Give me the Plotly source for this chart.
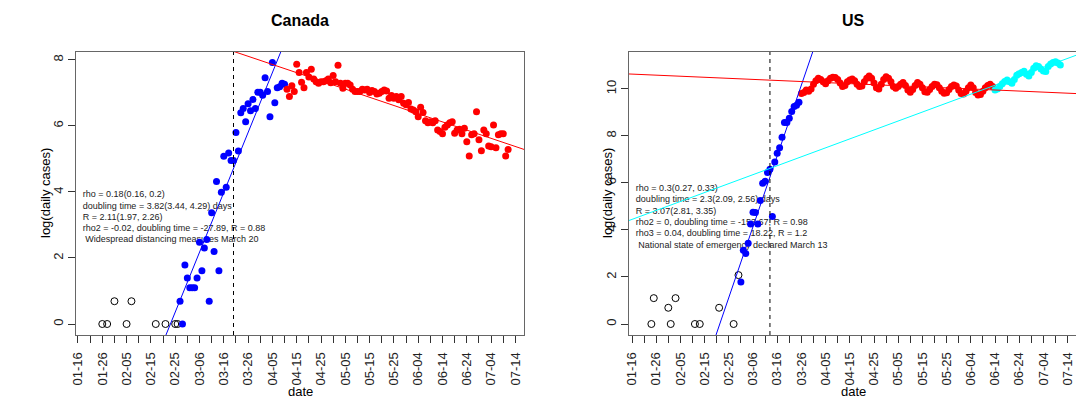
import plotly.graph_objects as go
from datetime import datetime, timedelta
import math

# ---------------------------------------------------------------------------
# Data: days are counted from 2020-01-16, values are log(daily cases)
# ---------------------------------------------------------------------------
START = datetime(2020, 1, 16)

# Canada
ca_early_days = [10, 12, 15, 20, 22, 32, 36, 40, 41]
ca_early_log = [0, 0, 0.69, 0, 0.69, 0, 0, 0, 0]

ca_growth_start = 42
ca_growth_log = [0.69, 0, 1.79, 1.39, 1.10, 1.10, 1.10, 1.39, 2.48, 1.61,
                 2.30, 2.56, 0.69, 3.37, 2.20, 4.32, 1.61, 3.99, 5.08, 4.14,
                 5.18, 4.95, 4.95, 5.80, 5.24, 6.40, 6.53, 6.13, 6.67, 6.46,
                 6.80, 6.53, 7.02, 7.02, 6.93, 7.46, 7.04, 6.28, 7.92, 6.70,
                 7.16, 7.19, 7.29, 7.26]

ca_decline_start = 86
ca_decline_log = [7.11, 6.89, 7.22, 7.04, 7.87, 7.62, 7.32, 7.16, 7.62, 7.48,
                  7.72, 7.42, 7.34, 7.29, 7.34, 7.34, 7.37, 7.42, 7.31, 7.53,
                  7.34, 7.84, 7.29, 7.14, 7.29, 7.29, 7.24, 7.11, 7.04, 7.04,
                  7.04, 7.11, 7.09, 7.11, 7.01, 7.07, 7.04, 6.97, 6.99, 7.04,
                  7.09, 7.06, 6.84, 6.92, 6.84, 6.89, 6.79, 6.89, 6.69, 6.64,
                  6.71, 6.51, 6.48, 6.43, 6.28, 6.57, 6.41, 6.16, 6.10, 6.13,
                  6.10, 6.16, 5.88, 5.83, 5.76, 5.96, 6.03, 6.10, 6.13, 5.78,
                  5.88, 5.90, 5.76, 5.93, 5.52, 5.09, 5.73, 5.76, 6.43, 5.58,
                  5.25, 5.88, 5.76, 5.39, 5.37, 6.03, 5.34, 5.73, 5.76, 5.76,
                  5.09, 5.29]

ca_doubling = [3.82, -27.89]          # growth / decline phase doubling times
ca_fit_intercept = [-6.90, 9.85]      # fitted log value at day 0
ca_event_day = 64                     # 2020-03-20
ca_text = ["rho = 0.18(0.16, 0.2)",
           "doubling time = 3.82(3.44, 4.29) days",
           "R = 2.11(1.97, 2.26)",
           "rho2 = -0.02, doubling time = -27.89, R = 0.88",
           "\u00a0Widespread distancing measures March 20"]

# US
us_early_days = [8, 9, 15, 16, 18, 26, 28, 36, 42, 44]
us_early_log = [0, 1.10, 0.69, 0, 1.10, 0, 0, 0.69, 0, 2.08]

us_growth_start = 45
us_growth_log = [1.79, 3.14, 3.00, 3.43, 4.25, 4.75, 4.74, 4.25, 5.25, 5.99,
                 6.07, 6.44, 6.58, 4.57, 6.89, 7.26, 7.50, 7.94, 8.57, 8.57,
                 8.75, 9.04, 9.25, 9.30, 9.43]

us_plateau_start = 70
us_plateau_log = [9.80, 9.85, 9.95, 9.90, 10.00, 10.20, 10.35, 10.45, 10.40, 10.30,
                  10.22, 10.35, 10.45, 10.50, 10.48, 10.40, 10.25, 10.10, 10.15, 10.30,
                  10.38, 10.42, 10.35, 10.20, 10.10, 10.12, 10.30, 10.45, 10.55, 10.45,
                  10.25, 10.05, 10.00, 10.20, 10.40, 10.52, 10.45, 10.30, 10.10, 10.03,
                  10.10, 10.20, 10.27, 10.15, 9.95, 9.86, 9.98, 10.15, 10.27, 10.20,
                  10.05, 9.88, 9.86, 9.98, 10.10, 10.20, 10.18, 10.05, 9.90, 9.82,
                  9.84, 9.98, 10.10, 10.17, 10.12, 9.95, 9.80, 9.78, 9.90, 10.05,
                  10.17, 10.05, 9.85, 9.74, 9.76, 9.90, 10.05, 10.15, 10.20, 10.10]

us_resurge_start = 150
us_resurge_log = [9.95, 10.00, 10.10, 10.22, 10.31, 10.38, 10.30, 10.24, 10.40, 10.58,
                  10.65, 10.70, 10.75, 10.62, 10.55, 10.70, 10.88, 10.98, 10.95, 10.85,
                  10.76, 10.74, 10.95, 11.06, 11.12, 11.16, 11.10, 11.02]

us_doubling = [2.3, -153.67, 18.22]
us_fit_intercept = [-10.93, 10.63, 4.45]
us_event_day = 57                     # 2020-03-13
us_text = ["rho = 0.3(0.27, 0.33)",
           "doubling time = 2.3(2.09, 2.56) days",
           "R = 3.07(2.81, 3.35)",
           "rho2 = 0, doubling time = -153.67, R = 0.98",
           "rho3 = 0.04, doubling time = 18.22, R = 1.2",
           "\u00a0National state of emergency declared March 13"]

# ---------------------------------------------------------------------------
W, H = 1076, 398
FONT = "Liberation Sans, Arial, sans-serif"
BLUE, RED, CYAN = "#0000FF", "#FF0000", "#00FFFF"


def to_date(d):
    return (START + timedelta(days=d)).strftime("%Y-%m-%d %H:%M:%S")


def dates(first, n):
    return [to_date(first + i) for i in range(n)]


def fit_line(doubling, intercept, lo=-10, hi=200):
    rate = math.log(2) / doubling
    return [to_date(lo), to_date(hi)], [intercept + rate * lo, intercept + rate * hi]


fig = go.Figure()

panels = [
    dict(xa="x", ya="y", early=(ca_early_days, ca_early_log),
         phases=[(ca_growth_start, ca_growth_log, BLUE), (ca_decline_start, ca_decline_log, RED)],
         fits=list(zip(ca_doubling, ca_fit_intercept, [BLUE, RED])),
         text=ca_text, text_day=2.0, text_top=3.91, text_step=0.343, event=ca_event_day),
    dict(xa="x2", ya="y2", early=(us_early_days, us_early_log),
         phases=[(us_growth_start, us_growth_log, BLUE), (us_plateau_start, us_plateau_log, RED),
                 (us_resurge_start, us_resurge_log, CYAN)],
         fits=list(zip(us_doubling, us_fit_intercept, [BLUE, RED, CYAN])),
         text=us_text, text_day=1.6, text_top=5.77, text_step=0.488, event=us_event_day),
]

for p in panels:
    # annotation text sits beneath the points
    fig.add_trace(go.Scatter(
        x=[to_date(p["text_day"])] * len(p["text"]),
        y=[p["text_top"] - i * p["text_step"] for i in range(len(p["text"]))],
        text=p["text"], mode="text", textposition="middle right",
        textfont=dict(family=FONT, size=9, color="#222"),
        xaxis=p["xa"], yaxis=p["ya"], showlegend=False, hoverinfo="skip"))
    ed, ev = p["early"]
    fig.add_trace(go.Scatter(
        x=[to_date(d) for d in ed], y=ev, mode="markers",
        marker=dict(symbol="circle-open", size=7, color="black", line=dict(width=1)),
        xaxis=p["xa"], yaxis=p["ya"], showlegend=False))
    for first, vals, col in p["phases"]:
        fig.add_trace(go.Scatter(
            x=dates(first, len(vals)), y=vals, mode="markers",
            marker=dict(symbol="circle", size=7, color=col, line=dict(width=0)),
            xaxis=p["xa"], yaxis=p["ya"], showlegend=False))
    for dbl, icpt, col in p["fits"]:
        lx, ly = fit_line(dbl, icpt)
        fig.add_trace(go.Scatter(
            x=lx, y=ly, mode="lines", line=dict(color=col, width=1),
            xaxis=p["xa"], yaxis=p["ya"], showlegend=False))
    fig.add_shape(type="line", xref=p["xa"], yref=p["ya"] + " domain",
                  x0=to_date(p["event"]), x1=to_date(p["event"]), y0=0, y1=1,
                  line=dict(color="black", width=1, dash="4px,4px"))

# x ticks every 5 days, labelled every 10 days
tick_days = list(range(0, 185, 5))
tick_vals = [to_date(d) for d in tick_days]
tick_text = [(START + timedelta(days=d)).strftime("%m-%d") if d % 10 == 0 else ""
             for d in tick_days]

y_top, y_bot = 52, 335
ydom = [1 - y_bot / H, 1 - y_top / H]

common_x = dict(type="date", tickvals=tick_vals, ticktext=tick_text, tickangle=-90,
                ticks="outside", ticklen=7, tickcolor="#333", showgrid=False,
                zeroline=False, showline=True, mirror=True, linecolor="#666",
                linewidth=1, tickfont=dict(family=FONT, size=13, color="#222"),
                ticklabelstandoff=4, automargin=False)
common_y = dict(ticks="outside", ticklen=7, tickcolor="#333", showgrid=False,
                zeroline=False, showline=True, mirror=True, linecolor="#666",
                linewidth=1, tickangle=-90, automargin=False,
                tickfont=dict(family=FONT, size=13, color="#222"))

fig.update_layout(
    width=W, height=H, margin=dict(l=0, r=0, t=0, b=0, autoexpand=False),
    paper_bgcolor="white", plot_bgcolor="white",
    xaxis=dict(common_x, domain=[76 / W, 524 / W],
               range=[to_date(-0.82), to_date(183.54)], anchor="y"),
    yaxis=dict(common_y, domain=ydom, range=[-0.333, 8.24],
               tickvals=[0, 2, 4, 6, 8], anchor="x"),
    xaxis2=dict(common_x, domain=[629 / W, 1.0],
                range=[to_date(-1.24), to_date(183.47)], anchor="y2"),
    yaxis2=dict(common_y, domain=ydom, range=[-0.468, 11.57],
                tickvals=[0, 2, 4, 6, 8, 10], anchor="x2"),
)

# titles and axis labels
labels = [("<b>Canada</b>", 300, 20, 16, 0), ("<b>US</b>", 853, 20, 16, 0),
          ("date", 300, 391, 13, 0), ("date", 853, 391, 13, 0),
          ("log(daily cases)", 45, 193, 13, -90), ("log(daily cases)", 607, 193, 13, -90)]
for txt, px, py, size, ang in labels:
    fig.add_annotation(text=txt, x=px / W, y=1 - py / H, xref="paper", yref="paper",
                       showarrow=False, textangle=ang, xanchor="center", yanchor="middle",
                       font=dict(family=FONT, size=size, color="black"))

fig.write_html("out.html")
